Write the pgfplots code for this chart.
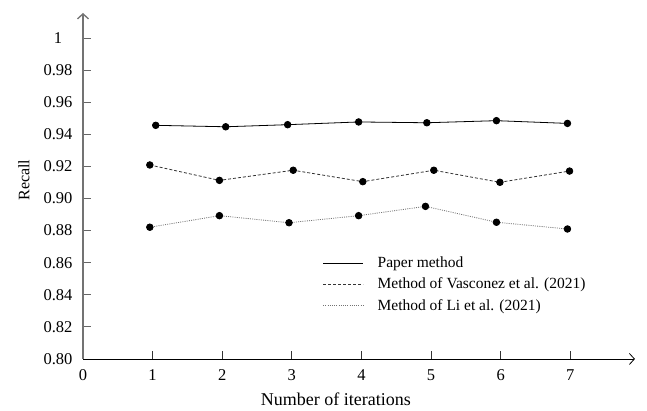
\documentclass[border=0pt]{standalone}
\usepackage{fontspec}
\setmainfont{Liberation Serif}
\usepackage{pgfplots}
\pgfplotsset{compat=1.18}
\usetikzlibrary{arrows.meta}
\begin{document}
\begin{tikzpicture}
\begin{axis}[
  scale only axis, width=552pt, height=346pt,
  xmin=0, xmax=7.93, ymin=0.8, ymax=1.0156,
  axis lines=left,
  clip=false,
  font=\fontsize{16.5pt}{19pt}\selectfont,
  x axis line style={black, line width=0.8pt, -{Straight Barb[length=5pt,width=11pt]}},
  y axis line style={black!55, line width=1.3pt, -{Straight Barb[length=5pt,width=11pt]}},
  xtick={0,1,2,3,4,5,6,7},
  xticklabels={0,1,2,3,4,5,6,7},
  ytick={0.80,0.82,0.84,0.86,0.88,0.90,0.92,0.94,0.96,0.98,1.0},
  yticklabels={0.80,0.82,0.84,0.86,0.88,0.90,0.92,0.94,0.96,0.98,1},
  tick align=inside,
  major tick length=8pt,
  xtick style={black!80, line width=0.8pt},
  ytick style={black!60, line width=0.9pt},
  xticklabel style={anchor=center, yshift=-16pt},
  yticklabel style={anchor=center, xshift=-25pt},
  xlabel={Number of iterations},
  ylabel={Recall},
  xlabel style={at={(rel axis cs:0.4583,-0.1156)}, anchor=center, font=\fontsize{18pt}{21pt}\selectfont},
  ylabel style={at={(rel axis cs:-0.1069,0.517)}, anchor=center, font=\fontsize{16pt}{19pt}\selectfont},
  legend style={draw=none, fill=none, at={(axis cs:3.40,0.8663)}, anchor=north west,
    font=\fontsize{15.5pt}{18pt}\selectfont, row sep=5pt,
    /tikz/every odd column/.append style={column sep=12pt}},
  legend cell align=left,
  legend image code/.code={\draw[#1] (0pt,0pt) -- (40pt,0pt);},
]
\addplot[black, line width=0.8pt, mark=*, mark size=3.3pt, mark options={solid, fill=black}]
  coordinates {(1.045,0.9456)(2.05,0.9447)(2.94,0.9460)(3.96,0.9477)(4.94,0.9472)(5.94,0.9485)(6.96,0.9468)};
\addlegendentry{Paper method}
\addplot[black!80, line width=0.8pt, dash pattern=on 3pt off 2pt, mark=*, mark size=3.3pt, mark options={solid, fill=black, draw=black}]
  coordinates {(0.96,0.9209)(1.96,0.9113)(3.02,0.9176)(4.02,0.9105)(5.04,0.9176)(5.99,0.9101)(6.99,0.9171)};
\addlegendentry{Method of Vasconez et al. (2021)}
\addplot[black!55, line width=0.8pt, dash pattern=on 1pt off 1.2pt, mark=*, mark size=3.3pt, mark options={solid, fill=black, draw=black}]
  coordinates {(0.96,0.8821)(1.96,0.8893)(2.96,0.8849)(3.96,0.8893)(4.92,0.8951)(5.94,0.8852)(6.96,0.8810)};
\addlegendentry{Method of Li et al. (2021)}
\coordinate (bl) at (axis cs:-1.1925,0.7682);
\coordinate (tr) at (axis cs:8.103,1.0237);
\end{axis}
\path[use as bounding box] (bl) rectangle (tr);
\end{tikzpicture}
\end{document}
